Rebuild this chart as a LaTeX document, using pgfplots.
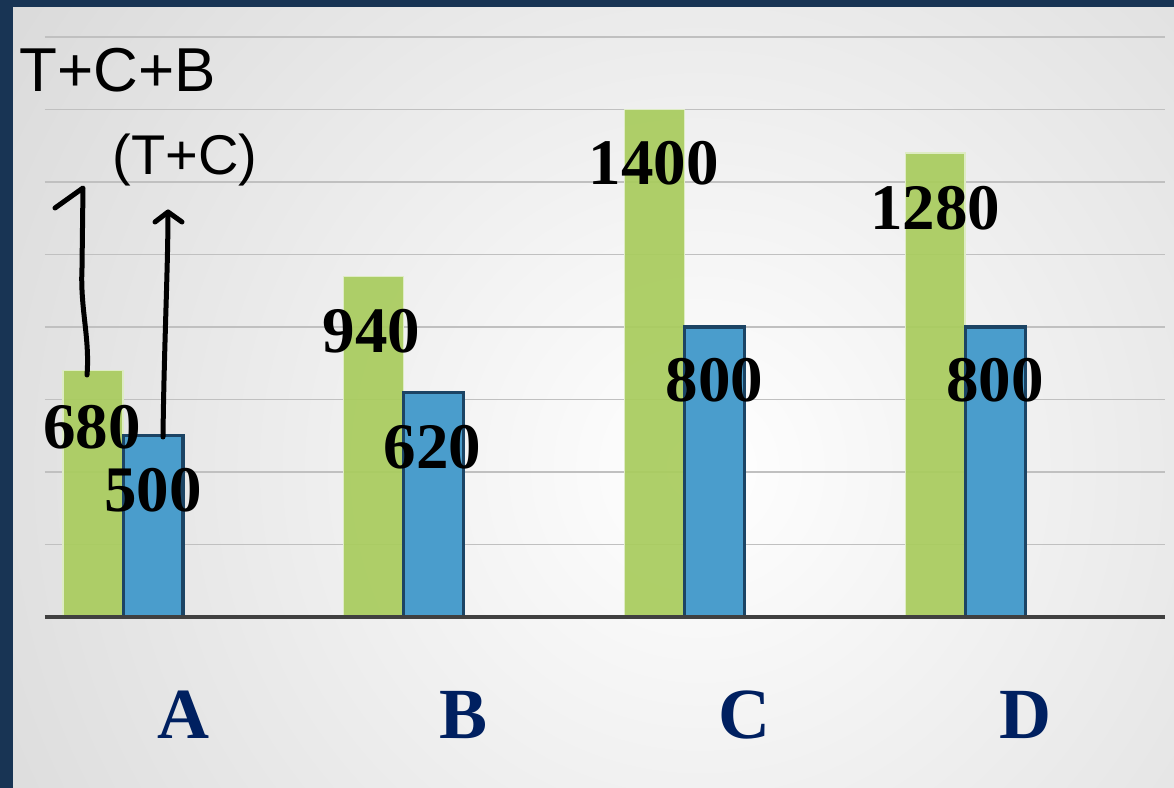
\documentclass[border=0pt]{standalone}
\usepackage{fontspec}
\setmainfont{Liberation Serif}
\newfontfamily\handfont{Liberation Sans}
\usepackage{pgfplots}
\pgfplotsset{compat=1.18}
\definecolor{framecol}{RGB}{24,52,84}
\definecolor{bargreen}{RGB}{169,204,94}
\definecolor{barblue}{RGB}{74,157,204}
\definecolor{blueedge}{RGB}{28,68,100}
\definecolor{greenedge}{RGB}{222,236,196}
\definecolor{catblue}{RGB}{0,32,96}
\definecolor{gridgray}{RGB}{192,192,192}
\definecolor{basecol}{RGB}{64,64,64}
\newcommand{\labfont}{\fontsize{32.5}{32.5}\selectfont\bfseries}
\begin{document}
\begin{tikzpicture}[x=1pt,y=1pt]
\useasboundingbox (0,0) rectangle (587,394);
\fill[framecol] (0,0) rectangle (587,394);
\begin{scope}
\clip (6.5,0) rectangle (587,390);
\shade[inner color=white, outer color=black!25] (350,160) circle (720);
\end{scope}
\begin{axis}[at={(22.5pt,85.5pt)}, anchor=south west, scale only axis,
  width=560pt, height=290pt,
  xmin=-0.278, xmax=3.712, ymin=0, ymax=1600,
  axis line style={draw=none},
  ytick={200,400,...,1600}, yticklabels={},
  ymajorgrids, grid style={gridgray, line width=0.9pt},
  major tick length=0pt,
  xtick={0,1,2,3}, xticklabels={A,B,C,D},
  xticklabel style={font=\fontsize{36}{36}\selectfont\bfseries, text=catblue, anchor=center, xshift=30pt, yshift=-49pt},
  clip=false]
\addplot[ybar, bar width=0.2135, bar shift=-0.107, fill=bargreen, fill opacity=0.93, draw=greenedge, line width=0.6pt]
  coordinates {(0,680) (1,940) (2,1400) (3,1280)};
\addplot[ybar, bar width=0.2135, bar shift=0.107, fill=barblue, draw=blueedge, line width=1.6pt]
  coordinates {(0,500) (1,620) (2,800) (3,800)};
\draw[basecol, line width=2pt] (rel axis cs:0,0) -- (rel axis cs:1,0);
\node[font=\labfont] at (axis cs:-0.110,524) {680};
\node[font=\labfont] at (axis cs:0.107,350) {500};
\node[font=\labfont] at (axis cs:0.886,789) {940};
\node[font=\labfont] at (axis cs:1.103,469) {620};
\node[font=\labfont] at (axis cs:1.890,1253) {1400};
\node[font=\labfont] at (axis cs:2.107,654) {800};
\node[font=\labfont] at (axis cs:2.893,1128) {1280};
\node[font=\labfont] at (axis cs:3.107,654) {800};
\end{axis}
\node[font=\handfont\fontsize{31}{31}\selectfont] at (59,359) {T+C+B};
\node[font=\handfont\fontsize{28}{28}\selectfont] at (92.5,314) {(T+C)};
\draw[line width=2.5pt, line cap=round, line join=round]
  (43.5,206.5) .. controls (45,225) and (40,240) .. (41,260) -- (41.5,300) -- (27.5,290);
\draw[line width=2.5pt, line cap=round, line join=round]
  (81.5,175.5) .. controls (82,220) and (84,260) .. (84,288);
\draw[line width=2.5pt, line cap=round, line join=round]
  (77.5,283) -- (84,288) -- (91,283);
\end{tikzpicture}
\end{document}
